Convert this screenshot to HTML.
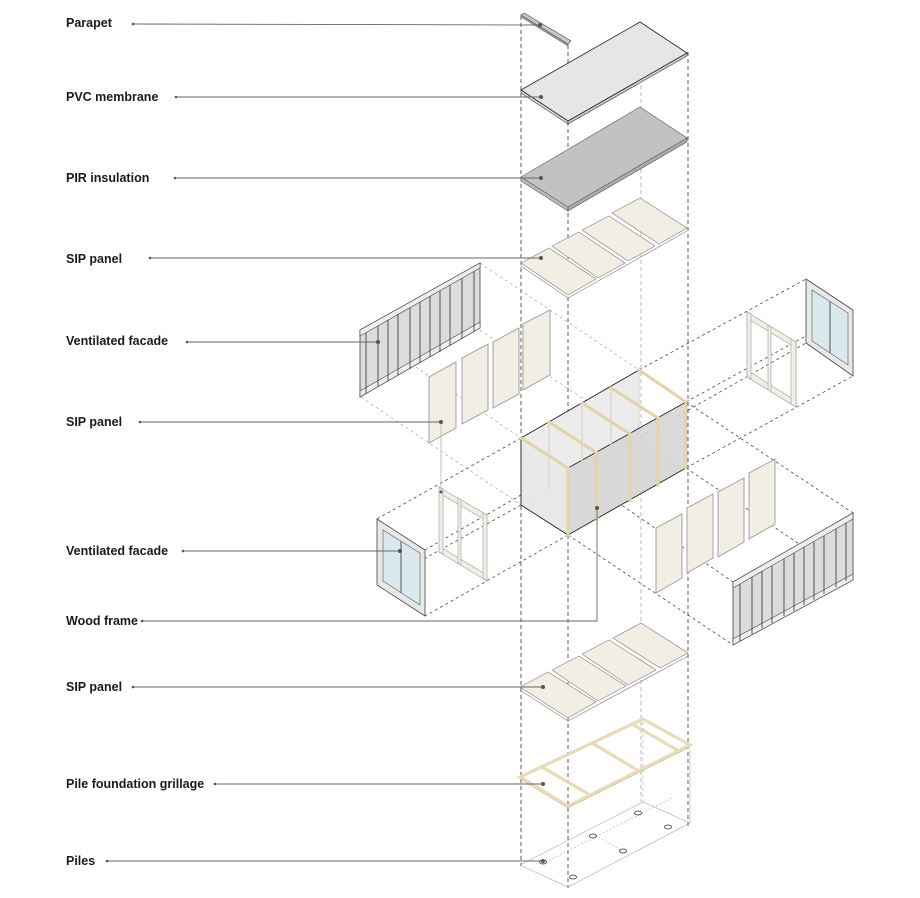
<!DOCTYPE html>
<html><head><meta charset="utf-8"><style>
html,body{margin:0;padding:0;background:#fff;}
svg{display:block;}
text{font-family:"Liberation Sans",sans-serif;font-size:12.5px;font-weight:bold;fill:#1a1a1a;}
</style></head><body>
<svg width="920" height="898" viewBox="0 0 920 898" xmlns="http://www.w3.org/2000/svg">
<g fill="none" stroke-width="0.8">
<line x1="521" y1="16" x2="521" y2="866" stroke="#333" stroke-dasharray="4,3"/>
<line x1="568" y1="45" x2="568" y2="888" stroke="#333" stroke-dasharray="4,3"/>
<line x1="688" y1="52" x2="688" y2="826" stroke="#333" stroke-dasharray="4,3"/>
<line x1="641" y1="22" x2="641" y2="802" stroke="#aaa" stroke-dasharray="4,3"/>
</g>
<g fill="none" stroke="#333" stroke-width="0.7" stroke-dasharray="3,3">
<line x1="521" y1="438" x2="377" y2="519"/><line x1="568" y1="468" x2="425" y2="550"/>
<line x1="521" y1="505" x2="377" y2="585"/><line x1="568" y1="535" x2="425" y2="616"/>
<line x1="639" y1="370" x2="806" y2="279"/><line x1="686" y1="402" x2="853" y2="310"/>
<line x1="686" y1="468" x2="853" y2="376"/><line x1="641" y1="437" x2="806" y2="343"/>
<line x1="568" y1="468" x2="733" y2="582"/><line x1="686" y1="402" x2="853" y2="513"/>
<line x1="568" y1="535" x2="733" y2="645"/><line x1="686" y1="468" x2="853" y2="580"/>
</g>
<g fill="none" stroke="#999" stroke-width="0.6" stroke-dasharray="3,3">
<line x1="361" y1="330" x2="521" y2="438"/><line x1="480" y1="263" x2="639" y2="370"/>
<line x1="361" y1="397" x2="521" y2="505"/><line x1="480" y1="330" x2="641" y2="437"/>
</g>
<polygon points="521,15 524,13 571,41 568,44" fill="#c8c8c8" stroke="#555" stroke-width="0.7"/>
<polygon points="521,15 568,44 568,46 521,17" fill="#999" stroke="#555" stroke-width="0.5"/>
<polygon points="521,90 568,121 568,124 521,93" fill="#ddd" stroke="#333" stroke-width="0.6"/>
<polygon points="568,121 687,53 687,56 568,124" fill="#ccc" stroke="#333" stroke-width="0.6"/>
<polygon points="521,90 640,22 687,53 568,121" fill="#e6e6e6" stroke="#222" stroke-width="0.8"/>
<polygon points="521,177 568,207 568,211 521,181" fill="#bbb" stroke="#555" stroke-width="0.6"/>
<polygon points="568,207 687,138 687,142 568,211" fill="#aaa" stroke="#555" stroke-width="0.6"/>
<polygon points="521,177 640,107 687,138 568,207" fill="#c2c2c2" stroke="#666" stroke-width="0.7"/>
<g fill="#f2eee3" stroke="#888" stroke-width="0.7">
<polygon points="521,263 549,248 596,279 568,295"/>
<polygon points="552,246 579,232 625,263 598,278"/>
<polygon points="582,230 609,216 655,246 628,261"/>
<polygon points="612,213 640,198 687,228 659,244"/>
<line x1="521" y1="266" x2="568" y2="298"/><line x1="568" y1="298" x2="687" y2="231"/>
</g>
<polygon points="360,330 480,263 480,328 360,397" fill="#dcdcdc" stroke="#444" stroke-width="0.8"/>
<polygon points="360,330 480,263 480,268 360,336" fill="#eee" stroke="#444" stroke-width="0.6"/>
<polygon points="360,391 480,322 480,328 360,397" fill="#eee" stroke="#444" stroke-width="0.6"/>
<g stroke="#333" stroke-width="0.8">
<line x1="366" y1="333" x2="366" y2="394"/><line x1="378" y1="326" x2="378" y2="387"/><line x1="388" y1="320" x2="388" y2="381"/>
<line x1="398" y1="314" x2="398" y2="375"/><line x1="410" y1="308" x2="410" y2="369"/><line x1="420" y1="302" x2="420" y2="363"/>
<line x1="430" y1="296" x2="430" y2="357"/><line x1="440" y1="291" x2="440" y2="352"/><line x1="450" y1="285" x2="450" y2="346"/>
<line x1="462" y1="278" x2="462" y2="339"/><line x1="474" y1="271" x2="474" y2="332"/>
</g>
<g fill="#f2eee3" stroke="#999" stroke-width="0.9">
<polygon points="429,377 456,362 456,428 429,443"/>
<polygon points="462,358 488,344 488,410 462,424"/>
<polygon points="493,342 519,328 519,394 493,408"/>
<polygon points="523,324 550,310 550,375 523,390"/>
</g>
<polygon points="521,438 639,370 639,437 521,505" fill="#ececec" stroke="#aaa" stroke-width="0.5"/>
<polygon points="521,505 568,535 686,468 639,437" fill="#e4e4e4" stroke="#bbb" stroke-width="0.5"/>
<polygon points="521,438 568,468 568,535 521,505" fill="#e9e9e9" fill-opacity="0.8" stroke="#222" stroke-width="0.9"/>
<polygon points="568,468 686,402 686,468 568,535" fill="#d6d6d6" fill-opacity="0.9" stroke="#222" stroke-width="0.9"/>
<polyline points="521,438 639,370 686,402" fill="none" stroke="#222" stroke-width="0.9"/>
<g stroke="#e3d3a8" stroke-width="3" stroke-linecap="square">
<line x1="521" y1="438" x2="568" y2="468"/><line x1="549" y1="422" x2="597" y2="453"/>
<line x1="582" y1="403" x2="630" y2="434"/><line x1="611" y1="388" x2="658" y2="418"/>
<line x1="639" y1="370" x2="686" y2="402"/>
<line x1="568" y1="468" x2="568" y2="535"/><line x1="597" y1="453" x2="597" y2="519"/>
<line x1="630" y1="434" x2="630" y2="501"/><line x1="658" y1="418" x2="658" y2="485"/>
<line x1="686" y1="402" x2="686" y2="468"/>
</g>
<g stroke="#ddd6c2" stroke-width="1.5"><line x1="549" y1="422" x2="549" y2="488"/><line x1="582" y1="403" x2="582" y2="470"/><line x1="611" y1="388" x2="611" y2="454"/></g>
<polygon points="747,312 796,342 796,407 747,377" fill="none" stroke="#bbb" stroke-width="0.6"/>
<g fill="#f2eee3" stroke="#aaa" stroke-width="0.7">
<polygon points="747,312 796,342 796,348 747,318"/>
<polygon points="747,370 796,401 796,407 747,377"/>
<polygon points="747,312 751,314 751,379 747,377"/>
<polygon points="791,339 796,342 796,407 791,404"/>
<polygon points="768,325 771,327 771,392 768,390"/>
</g>
<polygon points="806,279 853,310 853,376 806,343" fill="#e8e8e8" stroke="#444" stroke-width="0.8"/>
<polygon points="812,290 848,313 848,365 812,341" fill="#d9e9ee" stroke="#555" stroke-width="0.6"/>
<line x1="830" y1="302" x2="830" y2="353" stroke="#555"/>
<g fill="#f2eee3" stroke="#aaa" stroke-width="0.7">
<polygon points="439,487 487,515 487,521 439,493"/>
<polygon points="439,546 487,575 487,581 439,552"/>
<polygon points="439,487 443,489 443,554 439,552"/>
<polygon points="483,513 487,515 487,581 483,578"/>
<polygon points="458,498 461,500 461,565 458,563"/>
</g>
<polygon points="377,519 425,550 425,616 377,585" fill="#e8e8e8" stroke="#444" stroke-width="0.8"/>
<polygon points="383,530 420,553 420,605 383,581" fill="#d9e9ee" stroke="#555" stroke-width="0.6"/>
<line x1="401" y1="541" x2="401" y2="593" stroke="#555"/>
<g fill="#f2eee3" stroke="#999" stroke-width="0.9">
<polygon points="656,528 682,514 682,578 656,593"/>
<polygon points="687,508 713,494 713,558 687,573"/>
<polygon points="718,492 744,478 744,542 718,557"/>
<polygon points="749,473 775,459 775,524 749,539"/>
</g>
<polygon points="733,582 853,513 853,580 733,645" fill="#dcdcdc" stroke="#444" stroke-width="0.8"/>
<polygon points="733,582 853,513 853,519 733,588" fill="#eee" stroke="#444" stroke-width="0.6"/>
<polygon points="733,639 853,574 853,580 733,645" fill="#eee" stroke="#444" stroke-width="0.6"/>
<g stroke="#333" stroke-width="0.8">
<line x1="740" y1="584" x2="740" y2="641"/><line x1="752" y1="577" x2="752" y2="634"/><line x1="762" y1="571" x2="762" y2="628"/>
<line x1="772" y1="566" x2="772" y2="623"/><line x1="784" y1="559" x2="784" y2="616"/><line x1="794" y1="553" x2="794" y2="611"/>
<line x1="804" y1="547" x2="804" y2="605"/><line x1="814" y1="542" x2="814" y2="600"/><line x1="824" y1="536" x2="824" y2="594"/>
<line x1="836" y1="529" x2="836" y2="587"/><line x1="846" y1="523" x2="846" y2="581"/>
</g>
<g fill="#f2eee3" stroke="#888" stroke-width="0.7">
<polygon points="520,687 548,672 596,702 568,718"/>
<polygon points="552,670 579,656 626,686 598,701"/>
<polygon points="582,654 609,640 656,670 628,685"/>
<polygon points="613,638 641,623 688,653 660,668"/>
<line x1="520" y1="690" x2="568" y2="721"/><line x1="568" y1="721" x2="688" y2="656"/>
</g>
<g fill="none" stroke="#e8dbb6" stroke-width="3.2" stroke-linejoin="miter">
<polygon points="520,777 643,719 690,745 568,806"/>
<line x1="542" y1="767" x2="590" y2="795"/><line x1="592" y1="743" x2="639" y2="771"/><line x1="632" y1="724" x2="679" y2="751"/>
</g>
<g fill="none" stroke="#b8a880" stroke-width="0.5"><polyline points="520,779 568,808 690,747"/></g>
<g fill="none" stroke="#aaa" stroke-width="0.6">
<polygon points="520,865 643,802 690,823 568,887"/>
<line x1="643" y1="722" x2="643" y2="802" stroke-dasharray="3,3"/>
<line x1="690" y1="750" x2="690" y2="823"/>
<line x1="542" y1="864" x2="672" y2="798" stroke-dasharray="2,2"/>
<line x1="595" y1="835" x2="622" y2="851" stroke-dasharray="2,2"/>
</g>
<g fill="none" stroke="#333" stroke-width="0.8">
<ellipse cx="543" cy="862" rx="3.5" ry="2"/><ellipse cx="573" cy="877" rx="3.5" ry="2"/>
<ellipse cx="593" cy="836" rx="3.5" ry="2"/><ellipse cx="623" cy="851" rx="3.5" ry="2"/>
<ellipse cx="638" cy="813" rx="3.5" ry="2"/><ellipse cx="668" cy="827" rx="3.5" ry="2"/>
</g>
<g stroke="#666" stroke-width="0.9" fill="none">
<line x1="133" y1="24" x2="540" y2="25"/>
<line x1="176" y1="97" x2="541" y2="97"/>
<line x1="175" y1="178" x2="541" y2="178"/>
<line x1="150" y1="258" x2="541" y2="258"/>
<line x1="187" y1="342" x2="378" y2="342"/>
<polyline points="140,422 441,422"/>
<line x1="441" y1="422" x2="441" y2="492" stroke="#bbb"/>
<line x1="183" y1="551" x2="400" y2="551"/>
<polyline points="142,621 597,621 597,508"/>
<line x1="133" y1="687" x2="543" y2="687"/>
<line x1="215" y1="784" x2="543" y2="784"/>
<line x1="107" y1="861" x2="543" y2="861"/>
</g>
<g fill="#555">
<circle cx="133" cy="24" r="1.3"/><circle cx="540" cy="25" r="2"/>
<circle cx="176" cy="97" r="1.3"/><circle cx="541" cy="97" r="2"/>
<circle cx="175" cy="178" r="1.3"/><circle cx="541" cy="178" r="2"/>
<circle cx="150" cy="258" r="1.3"/><circle cx="541" cy="258" r="2"/>
<circle cx="187" cy="342" r="1.3"/><circle cx="378" cy="342" r="2"/>
<circle cx="140" cy="422" r="1.3"/><circle cx="441" cy="422" r="2"/><circle cx="441" cy="492" r="1.5"/>
<circle cx="183" cy="551" r="1.3"/><circle cx="400" cy="551" r="2"/>
<circle cx="142" cy="621" r="1.3"/><circle cx="597" cy="508" r="2"/>
<circle cx="133" cy="687" r="1.3"/><circle cx="543" cy="687" r="2"/>
<circle cx="215" cy="784" r="1.3"/><circle cx="543" cy="784" r="2"/>
<circle cx="107" cy="861" r="1.3"/><circle cx="543" cy="861" r="2"/>
</g>
<text x="66" y="27">Parapet</text>
<text x="66" y="101">PVC membrane</text>
<text x="66" y="182">PIR insulation</text>
<text x="66" y="263">SIP panel</text>
<text x="66" y="345">Ventilated facade</text>
<text x="66" y="426">SIP panel</text>
<text x="66" y="555">Ventilated facade</text>
<text x="66" y="625">Wood frame</text>
<text x="66" y="691">SIP panel</text>
<text x="66" y="788">Pile foundation grillage</text>
<text x="66" y="865">Piles</text>
</svg>
</body></html>
